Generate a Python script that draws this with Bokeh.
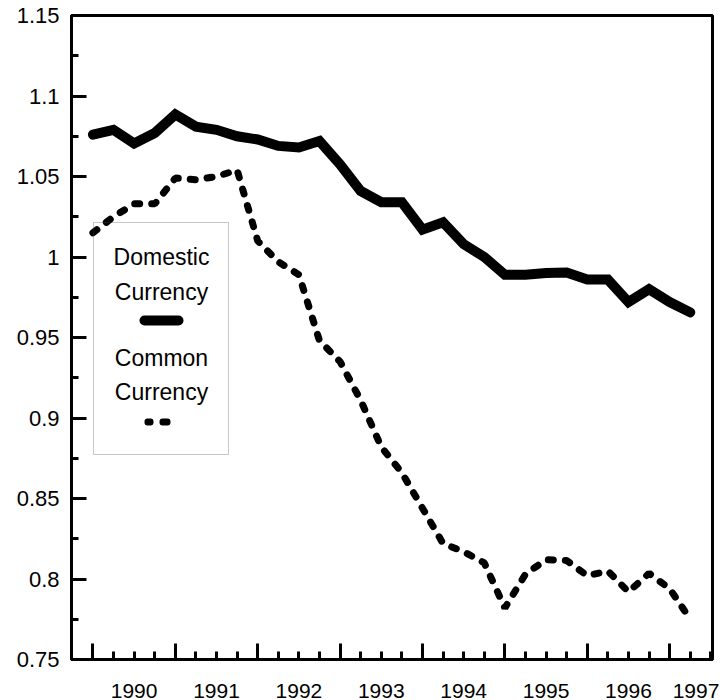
from bokeh.plotting import figure
from bokeh.models import (FixedTicker, NumeralTickFormatter, BoxAnnotation, Label,
                          LinearAxis, Range1d)
from bokeh.embed import file_html
from bokeh.resources import INLINE

# ---- data (quarterly, 1990Q1 .. 1997Q2) ----
start_year = 1990
n_quarters = 30
domestic = [1.076, 1.079, 1.0705, 1.077, 1.0885, 1.081, 1.079, 1.075, 1.073, 1.069,
            1.068, 1.072, 1.0575, 1.041, 1.034, 1.034, 1.017, 1.0215, 1.008, 1.000,
            0.989, 0.989, 0.990, 0.9904, 0.986, 0.986, 0.972, 0.980, 0.972, 0.9656]
common = [1.015, 1.025, 1.033, 1.033, 1.049, 1.048, 1.050, 1.054, 1.010, 0.997,
          0.989, 0.948, 0.935, 0.911, 0.882, 0.866, 0.844, 0.822, 0.817, 0.810,
          0.782, 0.803, 0.812, 0.8115, 0.802, 0.805, 0.792, 0.8035, 0.794, 0.775]
years = [1990, 1991, 1992, 1993, 1994, 1995, 1996, 1997]
y_ticks = [0.75, 0.8, 0.85, 0.9, 0.95, 1.0, 1.05, 1.1, 1.15]
legend_lines = ["Domestic", "Currency", "Common", "Currency"]

t = [start_year + i / 4 for i in range(n_quarters)]

FONT = "Liberation Sans"
x_start, x_end = 1989.74, 1997.52
y_start, y_end = 0.75, 1.15
W, H = 723, 700
BL, BR, BT, BB = 71, 11, 15, 40   # borders around the frame

p = figure(width=W, height=H, output_backend="svg", toolbar_location=None,
           x_range=Range1d(x_start, x_end), y_range=Range1d(y_start, y_end),
           min_border_left=BL, min_border_right=BR, min_border_top=BT, min_border_bottom=BB,
           background_fill_color="white", border_fill_color="white")
p.grid.visible = False
p.outline_line_color = "black"
p.outline_line_width = 3

# x axis (ticks only): year ticks + quarter minor ticks pointing inward
quarters = [y + q / 4 for y in years for q in range(1, 4) if y + q / 4 <= x_end]
xa = p.xaxis[0]
xa.ticker = FixedTicker(ticks=years, minor_ticks=quarters)
xa.major_label_overrides = {y: "" for y in years}
xa.major_label_text_font_size = "0px"
xa.major_label_standoff = 0
xa.axis_line_width = 3
xa.major_tick_in = 16
xa.major_tick_out = 0
xa.minor_tick_in = 8
xa.minor_tick_out = 0
xa.major_tick_line_width = 3
xa.minor_tick_line_width = 3

# second x axis carrying the year labels, centred in each year span (last one kept inside)
label_x = [min(y + 0.5, x_end - 0.2) for y in years]
lab_axis = LinearAxis(ticker=FixedTicker(ticks=label_x, minor_ticks=[]),
                      major_label_overrides={lx: str(y) for lx, y in zip(label_x, years)},
                      axis_line_color=None, major_tick_line_color=None,
                      minor_tick_line_color=None, major_tick_in=0, major_tick_out=0,
                      major_label_standoff=24, major_label_text_font=FONT,
                      major_label_text_line_height=0.3,
                      major_label_text_font_size="21px", major_label_text_color="black")
p.add_layout(lab_axis, "below")

# y axis
y_minor = [round(v + 0.025, 3) for v in y_ticks[:-1]]
p.yaxis.ticker = FixedTicker(ticks=y_ticks, minor_ticks=y_minor)
p.yaxis.formatter = NumeralTickFormatter(format="0.[00]")
p.yaxis.axis_line_width = 3
p.yaxis.major_tick_in = 15
p.yaxis.major_tick_out = 0
p.yaxis.minor_tick_in = 7
p.yaxis.minor_tick_out = 0
p.yaxis.major_tick_line_width = 3
p.yaxis.minor_tick_line_width = 3
p.yaxis.major_label_standoff = 12
p.yaxis.major_label_text_font = FONT
p.yaxis.major_label_text_font_size = "22px"
p.yaxis.major_label_text_color = "black"

# series
p.line(t, domestic, line_color="black", line_width=10, line_cap="round", line_join="miter")
p.line(t, common, line_color="black", line_width=7, line_dash="5 12", line_cap="round")

# manual legend; screen units are measured from the frame's bottom-left corner
fh = H - BT - BB


def sx(px):
    return px - BL


def sy(py):
    return fh - (py - BT)


def box(l, r, t_, b, **kw):
    return BoxAnnotation(left=sx(l), right=sx(r), top=sy(t_), bottom=sy(b),
                         left_units="screen", right_units="screen",
                         top_units="screen", bottom_units="screen", **kw)


p.add_layout(box(93, 228, 223, 455, fill_alpha=0, line_color="#444444", line_width=1))
for txt, py in zip(legend_lines, [257, 292, 358, 392]):
    p.add_layout(Label(x=sx(161), y=sy(py), x_units="screen", y_units="screen", text=txt,
                       text_align="center", text_baseline="middle",
                       text_font=FONT, text_font_size="23px", text_color="black"))
p.add_layout(box(139, 183, 316, 326, fill_color="black", fill_alpha=1, line_alpha=0,
                 border_radius=5))
for l, r in [(144, 153), (159, 170)]:
    p.add_layout(box(l, r, 419, 426, fill_color="black", fill_alpha=1, line_alpha=0,
                     border_radius=3))

open("out.html", "w").write(file_html(p, INLINE))
